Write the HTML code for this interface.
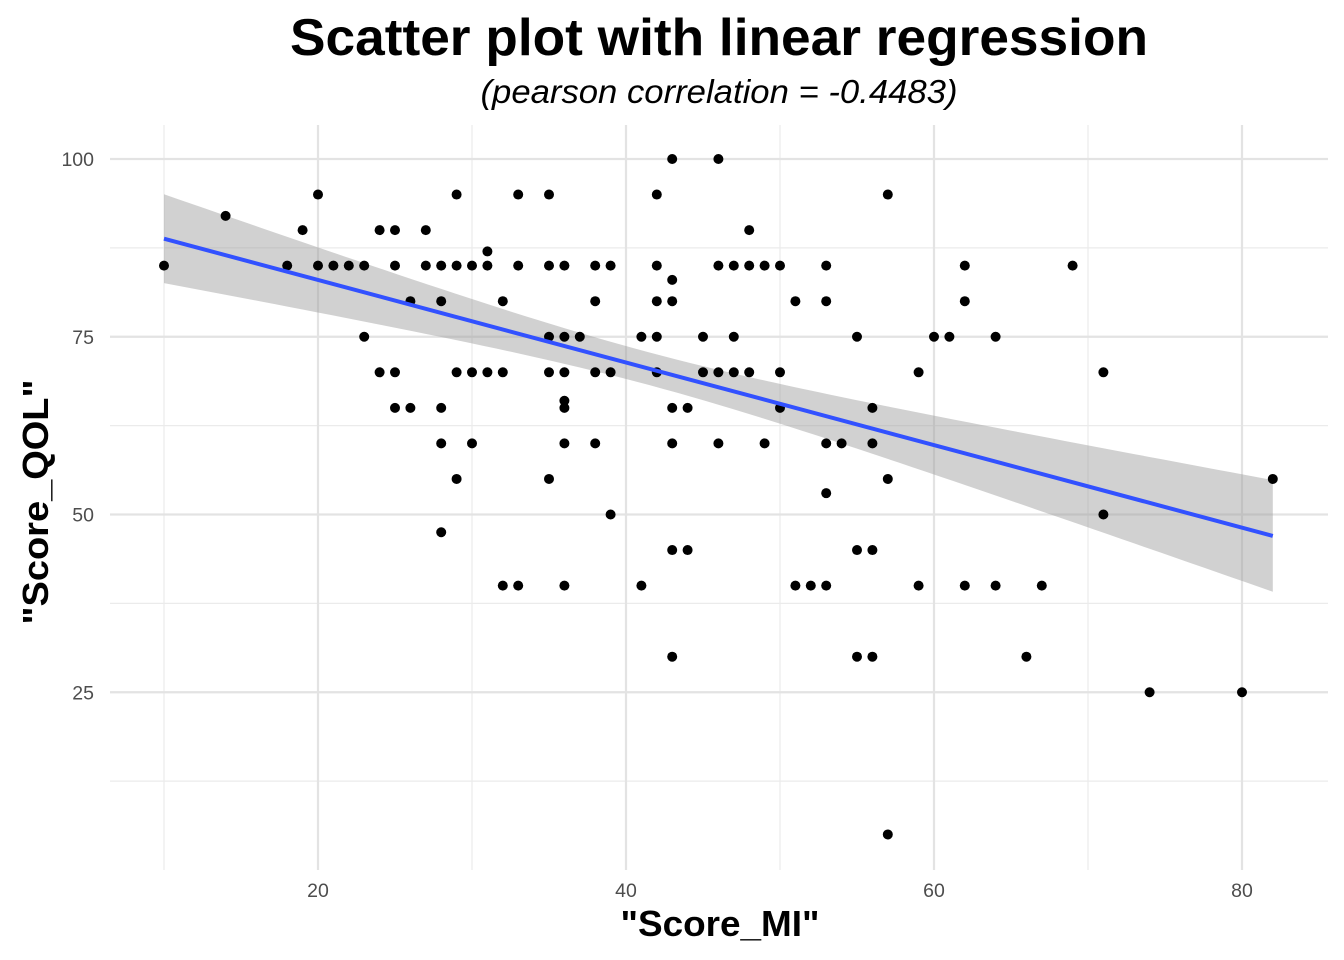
<!DOCTYPE html>
<html><head><meta charset="utf-8">
<style>
body{margin:0;background:#fff;}
svg{display:block;font-family:"Liberation Sans",Arial,sans-serif;}
</style></head>
<body>
<svg id="chart" width="1344" height="960" viewBox="0 0 1344 960">
<text x="719" y="55" text-anchor="middle" font-size="52" font-weight="bold" fill="#000" textLength="858" lengthAdjust="spacingAndGlyphs">Scatter plot with linear regression</text>
<text x="719" y="103" text-anchor="middle" font-size="33" font-style="italic" fill="#000" textLength="477" lengthAdjust="spacingAndGlyphs">(pearson correlation = -0.4483)</text>
<g id="grid"></g>
<g id="band"></g>
<g id="points"></g>
<g id="line"></g>
<g id="ticks"></g>
<text x="720" y="936" text-anchor="middle" font-size="36" font-weight="bold" fill="#000" textLength="199" lengthAdjust="spacingAndGlyphs">"Score_MI"</text>
<text transform="translate(48,502) rotate(-90)" text-anchor="middle" font-size="36" font-weight="bold" fill="#000" textLength="245" lengthAdjust="spacingAndGlyphs">"Score_QOL"</text>
</svg>
<script>
const xTicks=[20,40,60,80];
const yTicks=[25,50,75,100];
const xMinor=[10,30,50,70];
const yMinor=[12.5,37.5,62.5,87.5];
const scoreMI=[10,14,18,19,20,20,21,22,23,23,24,24,25,25,25,25,26,26,27,27,28,28,28,28,28,29,29,29,29,30,30,30,31,31,31,32,32,32,33,33,33,35,35,35,35,35,36,36,36,36,36,36,36,37,38,38,38,38,39,39,39,41,41,42,42,42,42,42,43,43,43,43,43,43,43,44,44,45,45,46,46,46,46,47,47,47,48,48,48,49,49,50,50,50,51,51,52,53,53,53,53,53,54,55,55,55,56,56,56,56,57,57,57,59,59,60,61,62,62,62,64,64,66,67,69,71,71,74,80,82];
const scoreQOL=[85,92,85,90,95,85,85,85,85,75,90,70,90,85,70,65,80,65,90,85,85,80,65,60,47.5,95,85,70,55,85,70,60,87,85,70,80,70,40,95,85,40,95,85,75,70,55,85,75,70,66,65,60,40,75,85,80,70,60,85,70,50,75,40,95,85,80,75,70,100,83,80,65,60,45,30,65,45,75,70,100,85,70,60,85,75,70,90,85,70,85,60,85,70,65,80,40,40,85,80,60,53,40,60,75,45,30,65,60,45,30,95,55,5,70,40,75,75,85,80,40,75,40,30,40,85,70,50,25,25,55];
const fitIntercept=94.6, fitSlope=-0.5806;
const bandMin=2.3, bandSlope=0.185, bandCenter=41.4;

const xs=v=>318+(v-20)*15.4;
const ys=v=>159+(100-v)*7.11;
const NS="http://www.w3.org/2000/svg";
function mk(tag,attrs,parent){const e=document.createElementNS(NS,tag);for(const k in attrs)e.setAttribute(k,attrs[k]);parent.appendChild(e);return e;}
const grid=document.getElementById('grid');
xMinor.forEach(v=>{const l=mk('line',{x1:xs(v),x2:xs(v),y1:125,y2:870,stroke:'#ebebeb','stroke-width':1.2},grid);

});
yMinor.forEach(v=>{const l=mk('line',{x1:110,x2:1328,y1:ys(v),y2:ys(v),stroke:'#ebebeb','stroke-width':1.2},grid);

});
xTicks.forEach(v=>{const l=mk('line',{x1:xs(v),x2:xs(v),y1:125,y2:870,stroke:'#e3e3e3','stroke-width':2.2},grid);

});
yTicks.forEach(v=>{const l=mk('line',{x1:110,x2:1328,y1:ys(v),y2:ys(v),stroke:'#e3e3e3','stroke-width':2.2},grid);

});
const ticks=document.getElementById('ticks');
xTicks.forEach(v=>{const t=mk('text',{x:xs(v),y:897,'text-anchor':'middle','font-size':19.5,fill:'#4d4d4d'},ticks);t.textContent=v;

});
yTicks.forEach(v=>{const t=mk('text',{x:94,y:ys(v)+7,'text-anchor':'end','font-size':19.5,fill:'#4d4d4d'},ticks);t.textContent=v;

});
const pts=document.getElementById('points');
scoreMI.forEach((x,i)=>{const c=mk('circle',{cx:xs(x),cy:ys(scoreQOL[i]),r:5,fill:'#000'},pts);

});
const x0=Math.min(...scoreMI), x1=Math.max(...scoreMI);
const fit=x=>fitIntercept+fitSlope*x;
const hw=x=>Math.sqrt(bandMin*bandMin+bandSlope*bandSlope*(x-bandCenter)*(x-bandCenter));
let up=[],lo=[];
for(let i=0;i<=80;i++){const x=x0+(x1-x0)*i/80;up.push(xs(x)+','+ys(fit(x)+hw(x)));lo.unshift(xs(x)+','+ys(fit(x)-hw(x)));}
const band=mk('polygon',{points:up.concat(lo).join(' '),fill:'#999','fill-opacity':0.45},document.getElementById('band'));


const ln=mk('line',{x1:xs(x0),y1:ys(fit(x0)),x2:xs(x1),y2:ys(fit(x1)),stroke:'#3251ff','stroke-width':4},document.getElementById('line'));


</script>
</body></html>
